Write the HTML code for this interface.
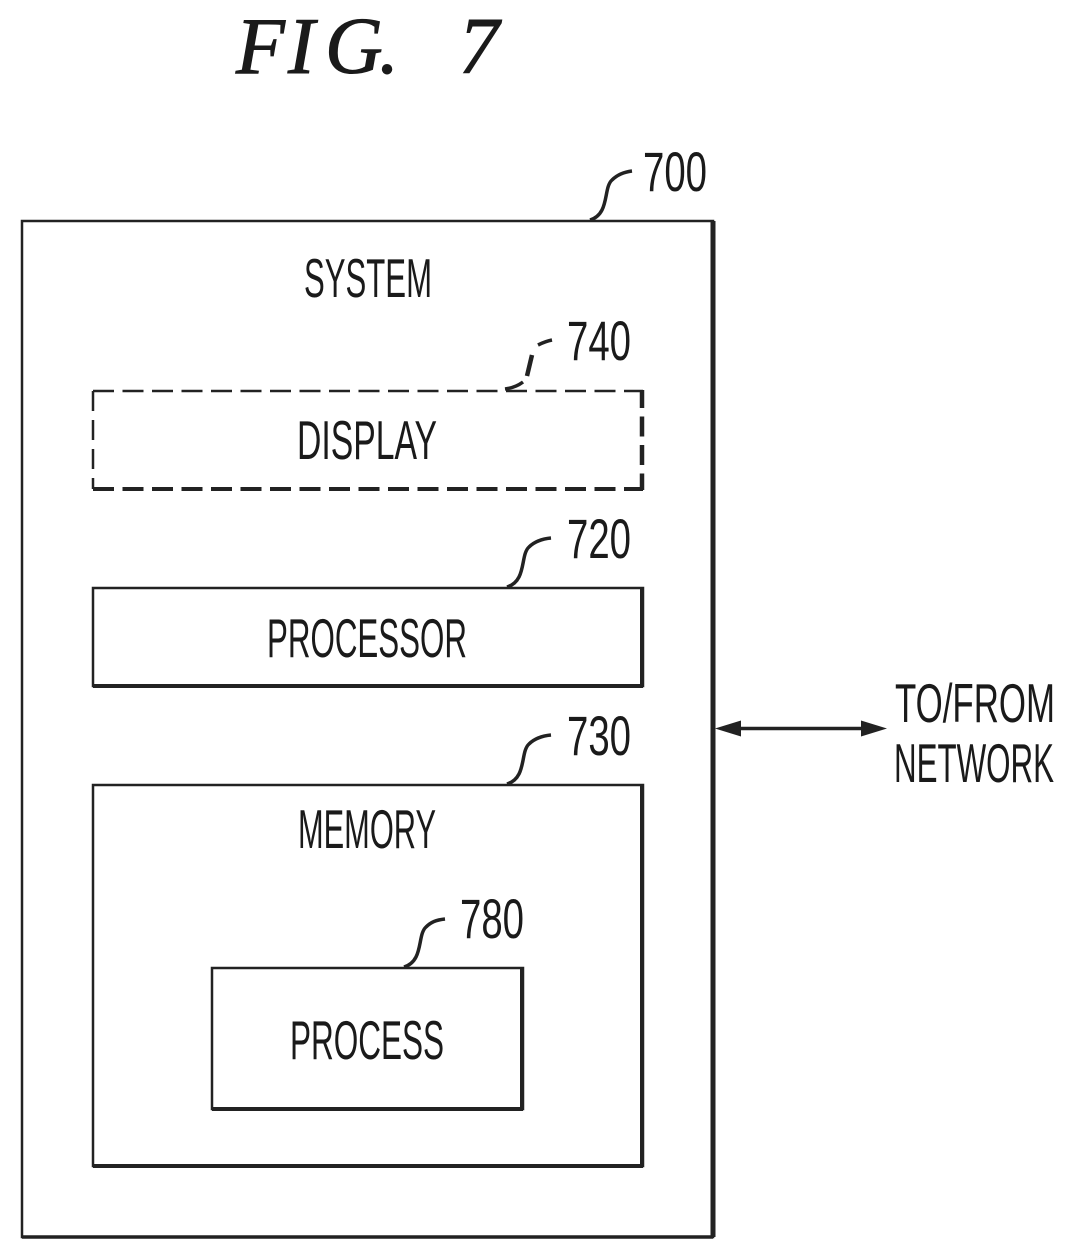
<!DOCTYPE html>
<html><head><meta charset="utf-8"><style>html,body{margin:0;padding:0;background:#fff;width:1073px;height:1260px;overflow:hidden}svg{display:block}
.t{font-family:"Liberation Sans",sans-serif;font-size:55px;fill:#1a1a1a;text-anchor:middle}
.n{font-family:"Liberation Sans",sans-serif;font-size:56px;fill:#1a1a1a;text-anchor:middle}
.f{font-family:"Liberation Serif",serif;font-style:italic;font-size:80px;fill:#1a1a1a;stroke:#1a1a1a;stroke-width:1}</style></head><body>
<svg width="1073" height="1260" viewBox="0 0 1073 1260">
<text class="f" x="236 288 325 379" y="73">FIG.</text>
<text class="f" x="459" y="73">7</text>
<g fill="none" stroke="#222">
<path d="M22 221H713V1237H22Z" stroke-width="2.5"/><path d="M713 221V1237" stroke-width="5"/><path d="M22 1237H713" stroke-width="3.5"/>
<path d="M93 391H643" stroke-width="2.5" stroke-dasharray="21 8.5"/>
<path d="M93 489H643" stroke-width="4" stroke-dasharray="21 8.5"/>
<path d="M93 391V489" stroke-width="2.5" stroke-dasharray="20 9"/>
<path d="M642 390V490" stroke-width="4.5" stroke-dasharray="18 8.5 20 8.5 20 8.5 18"/>
<path d="M93 588H643V686H93Z" stroke-width="2.5"/><path d="M93 686H643M642 588V686" stroke-width="4"/>
<path d="M93 785H643V1166H93Z" stroke-width="2.5"/><path d="M93 1166H643M642 785V1166" stroke-width="4"/>
<path d="M212 968H523V1109H212Z" stroke-width="2.5"/><path d="M212 1109H523M522 968V1109" stroke-width="4"/>
<path d="M590 220C610 214 603 188 612 180C617 175 624 172 632 171" stroke-width="3.5"/>
<path d="M505 389C513 388 519 385 523 382" stroke-width="3.5"/>
<path d="M527 376L532 355" stroke-width="4.5"/>
<path d="M538 345C542 343 547 341 552 340" stroke-width="3.5"/>
<path d="M507 587C527 581 520 555 529 547C534 542 541 539 551 538" stroke-width="3.5"/>
<path d="M507 784C527 778 520 752 529 744C534 739 541 736 551 735" stroke-width="3.5"/>
<path d="M404 967C424 961 417 935 426 927C431 922 436 920 445 919" stroke-width="3.5"/>
<path d="M730 728.5H873" stroke-width="3.5"/>
</g>
<path d="M715 728.5L741 720.5V736.5Z M887 728.5L861 720.5V736.5Z" fill="#222"/>
<text class="t" x="368" y="297" textLength="128" lengthAdjust="spacingAndGlyphs">SYSTEM</text>
<text class="t" x="367" y="459" textLength="140" lengthAdjust="spacingAndGlyphs">DISPLAY</text>
<text class="t" x="367" y="657" textLength="200" lengthAdjust="spacingAndGlyphs">PROCESSOR</text>
<text class="t" x="367" y="848" textLength="138" lengthAdjust="spacingAndGlyphs">MEMORY</text>
<text class="t" x="367" y="1059" textLength="154" lengthAdjust="spacingAndGlyphs">PROCESS</text>
<text class="t" x="975" y="722" textLength="160" lengthAdjust="spacingAndGlyphs">TO/FROM</text>
<text class="t" x="974" y="782" textLength="160" lengthAdjust="spacingAndGlyphs">NETWORK</text>
<text class="n" x="675" y="191" textLength="64" lengthAdjust="spacingAndGlyphs">700</text>
<text class="n" x="599" y="360" textLength="64" lengthAdjust="spacingAndGlyphs">740</text>
<text class="n" x="599" y="558" textLength="64" lengthAdjust="spacingAndGlyphs">720</text>
<text class="n" x="599" y="755" textLength="64" lengthAdjust="spacingAndGlyphs">730</text>
<text class="n" x="492" y="938" textLength="64" lengthAdjust="spacingAndGlyphs">780</text>
</svg></body></html>
